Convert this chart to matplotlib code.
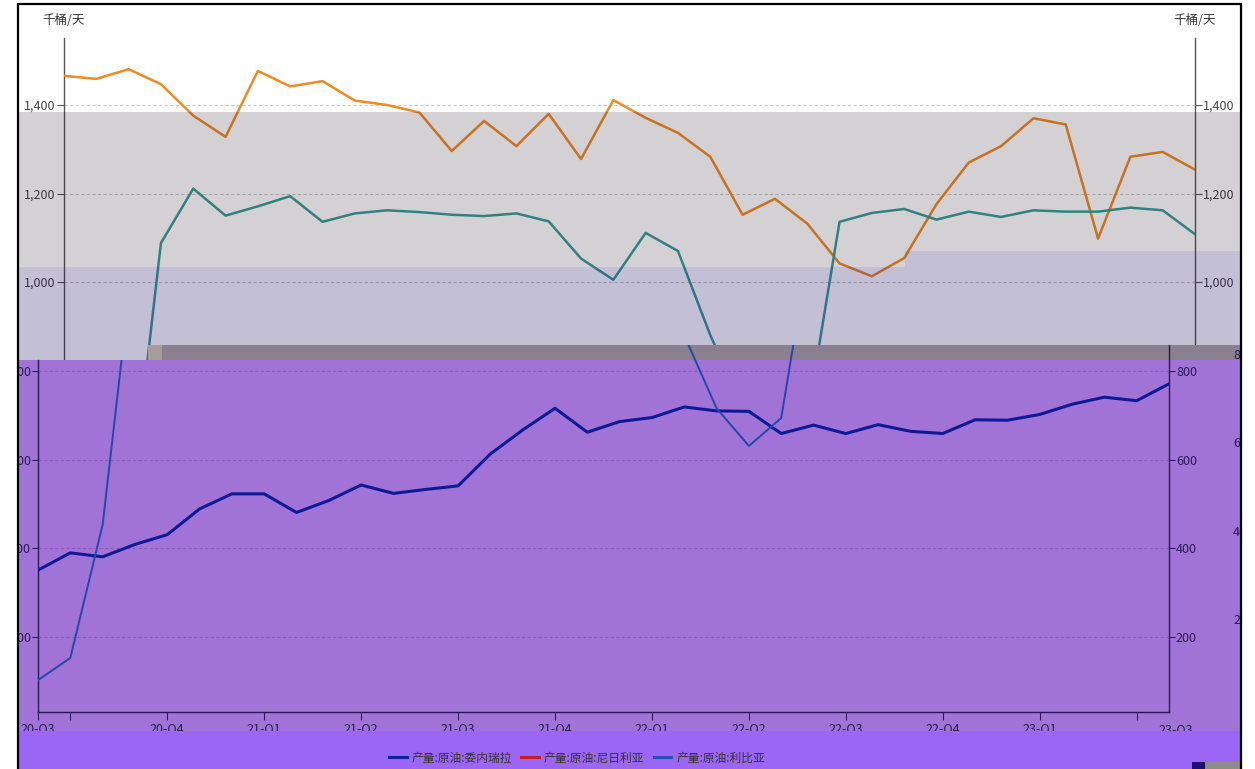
import matplotlib
matplotlib.use('Agg')
import matplotlib.pyplot as plt
from matplotlib.patches import Rectangle, Polygon
from matplotlib.lines import Line2D
from matplotlib.ticker import FuncFormatter

plt.rcParams['font.family'] = ['Noto Sans CJK SC', 'DejaVu Sans']

# ---------------- data (monthly, 36 points) ----------------
months = list(range(36))
nigeria = [1466, 1459, 1481, 1447, 1376, 1328, 1477, 1442, 1454, 1410, 1400, 1383,
           1296, 1364, 1307, 1380, 1278, 1411, 1371, 1337, 1283, 1152, 1188, 1132,
           1042, 1013, 1054, 1176, 1270, 1307, 1370, 1356, 1098, 1283, 1294, 1254]
libya = [103, 153, 453, 1088, 1211, 1150, 1171, 1194, 1136, 1155, 1162, 1158,
         1152, 1149, 1155, 1137, 1053, 1005, 1111, 1070, 880, 716, 631, 694,
         1136, 1156, 1165, 1141, 1159, 1147, 1162, 1159, 1159, 1168, 1162, 1108]
venezuela = [351, 390, 381, 409, 431, 489, 523, 523, 481, 508, 543, 524,
             533, 541, 613, 667, 716, 662, 686, 695, 719, 710, 709, 659,
             678, 659, 679, 664, 659, 690, 689, 702, 725, 741, 733, 771]
quarter_ticks = [0, 1, 4, 7, 10, 13, 16, 19, 22, 25, 28, 31, 34]
quarter_labels = ['20-Q3', '', '20-Q4', '21-Q1', '21-Q2', '21-Q3', '21-Q4',
                  '22-Q1', '22-Q2', '22-Q3', '22-Q4', '23-Q1', '']
end_label = '23-Q3'
top_yticks = [1000, 1200, 1400]
bottom_yticks = [200, 400, 600, 800]
unit = '千桶/天'
legend_labels = ['产量:原油:委内瑞拉', '产量:原油:尼日利亚', '产量:原油:利比亚']

W, H = 1255, 769
fig = plt.figure(figsize=(W / 100, H / 100), dpi=100)
fig.patch.set_facecolor('white')


def box(x0, y0, x1, y1):
    return [x0 / W, 1 - y1 / H, (x1 - x0) / W, (y1 - y0) / H]


def frect(x0, y0, x1, y1, **kw):
    r = Rectangle((x0 / W, 1 - y1 / H), (x1 - x0) / W, (y1 - y0) / H,
                  transform=fig.transFigure, **kw)
    fig.add_artist(r)
    return r


fmt = FuncFormatter(lambda v, p: f'{v:,.0f}')

# ---------------- top chart ----------------
k1 = 200 / 88.5
axT = fig.add_axes(box(64, 38, 1195, 360), zorder=0)
axT.set_facecolor('none')
axT.set_xlim(0, 35)
axT.set_ylim(1400 - (360 - 105) * k1, 1400 + (105 - 38) * k1)
axT.plot(months, nigeria, color='#ef8a25', lw=1.8, zorder=3)
axT.plot(months, libya, color='#3a9c9a', lw=1.8, zorder=3)
axT.set_yticks(top_yticks)
axT.yaxis.set_major_formatter(fmt)
axT.set_xticks([])
for s in ['top', 'bottom']:
    axT.spines[s].set_visible(False)
for s in ['left', 'right']:
    axT.spines[s].set_color('#555555')
    axT.spines[s].set_linewidth(1.0)
axT.tick_params(axis='y', left=True, right=True, labelleft=True, labelright=True,
                length=5, width=0.8, color='#555555', labelsize=9,
                labelcolor='#444444', pad=1)
axT.grid(axis='y', color='#c9c9c9', lw=0.8, ls=(0, (3, 2)))
axT.set_axisbelow(True)

# translucent bands over the top chart
gray_c = (16 / 255, 5 / 255, 11 / 255)
lav_c = (19 / 255, 0, 91 / 255)
frect(18, 112, 905, 267, fc=gray_c, alpha=0.18, lw=0, zorder=0.5)
frect(905, 112, 1241, 251, fc=gray_c, alpha=0.18, lw=0, zorder=0.5)
frect(18, 267, 905, 360, fc=lav_c, alpha=0.25, lw=0, zorder=0.5)
frect(905, 251, 1241, 345, fc=lav_c, alpha=0.25, lw=0, zorder=0.5)

# dark strip and purple panel
frect(150, 345, 1241, 360, fc='#8a808f', lw=0, zorder=0.6)
frect(148, 345, 162, 360, fc='#a69d9b', lw=0, zorder=0.61)
frect(18, 360, 1241, 731, fc='#a173d6', lw=0, zorder=0.7)

# ---------------- bottom chart ----------------
k2 = 200 / 88.7
axB = fig.add_axes(box(38, 345, 1169, 712), zorder=1)
axB.set_facecolor('none')
axB.set_xlim(0, 35)
ylo, yhi = 800 - (712 - 371) * k2, 800 + (371 - 345) * k2
axB.set_ylim(ylo, yhi)
clip = Polygon([(38 / W, 1 - 360 / H), (150 / W, 1 - 360 / H), (150 / W, 1 - 345 / H),
                (1169 / W, 1 - 345 / H), (1169 / W, 1 - 712 / H), (38 / W, 1 - 712 / H)],
               closed=True, transform=fig.transFigure, fill=False, lw=0)
lv, = axB.plot(months, venezuela, color='#0d1a96', lw=2.2, zorder=3)
ll, = axB.plot(months, libya, color='#2448a8', lw=1.4, zorder=3)
lv.set_clip_path(clip)
ll.set_clip_path(clip)
axB.set_yticks(bottom_yticks)
axB.yaxis.set_major_formatter(fmt)
axB.set_xticks(quarter_ticks)
axB.set_xticklabels(quarter_labels)
axB.spines['top'].set_visible(False)
for s in ['left', 'right', 'bottom']:
    axB.spines[s].set_color('#2a1a55')
    axB.spines[s].set_linewidth(1.0)
axB.spines['left'].set_bounds(ylo, 800 + (371 - 360) * k2)
axB.tick_params(axis='y', left=True, right=True, labelleft=True, labelright=True,
                length=4, width=0.8, color='#2a1a55', labelsize=9,
                labelcolor='#2a1a55', pad=1)
axB.tick_params(axis='x', length=6, width=0.8, color='#2a1a55', labelsize=9,
                labelcolor='#2a1a55', pad=1.5)
axB.text(35.2, -0.03, end_label, transform=axB.get_xaxis_transform(),
         ha='center', va='top', fontsize=9, color='#2a1a55')
axB.grid(axis='y', color='#8a5cc2', lw=0.8, ls=(0, (3, 2)))
axB.set_axisbelow(True)

# faint right-hand labels of a further layer
for yv, yp in zip(bottom_yticks, [620, 532, 444, 355]):
    fig.text(1233 / W, 1 - yp / H, f'{yv}', ha='left', va='center', fontsize=9,
             color='#2a1a55', zorder=1.5)

# light violet footer band with legend
frect(18, 731, 1241, 771, fc='#9b66f5', lw=0, zorder=2)
frect(1192, 762, 1205, 771, fc='#1a1070', lw=0, zorder=2.1)
frect(1205, 762, 1241, 771, fc='#8c8c8c', lw=0, zorder=2.1)

handles = [Line2D([], [], color='#10209e', lw=2.2),
           Line2D([], [], color='#c0202a', lw=2.2),
           Line2D([], [], color='#2a50b8', lw=2.2)]
leg = fig.legend(handles, legend_labels, loc='center',
                 bbox_to_anchor=(577 / W, 1 - 758 / H), ncol=3, frameon=False,
                 fontsize=8.5, handlelength=1.5, handletextpad=0.4,
                 columnspacing=0.8, labelcolor='#333333')
leg.set_zorder(3)

# unit labels
fig.text(64 / W, 1 - 20 / H, unit, ha='center', va='center', fontsize=9,
         color='#333333', zorder=3)
fig.text(1195 / W, 1 - 20 / H, unit, ha='center', va='center', fontsize=9,
         color='#333333', zorder=3)

# outer white margins and black frame
frect(0, 0, 18, 771, fc='white', lw=0, zorder=4)
frect(1241, 0, 1255, 771, fc='white', lw=0, zorder=4)
frect(0, 0, 1255, 4, fc='white', lw=0, zorder=4)
frect(18, 4, 1241, 775, fill=False, ec='black', lw=1.6, zorder=5)

fig.savefig('out.png', dpi=100)
